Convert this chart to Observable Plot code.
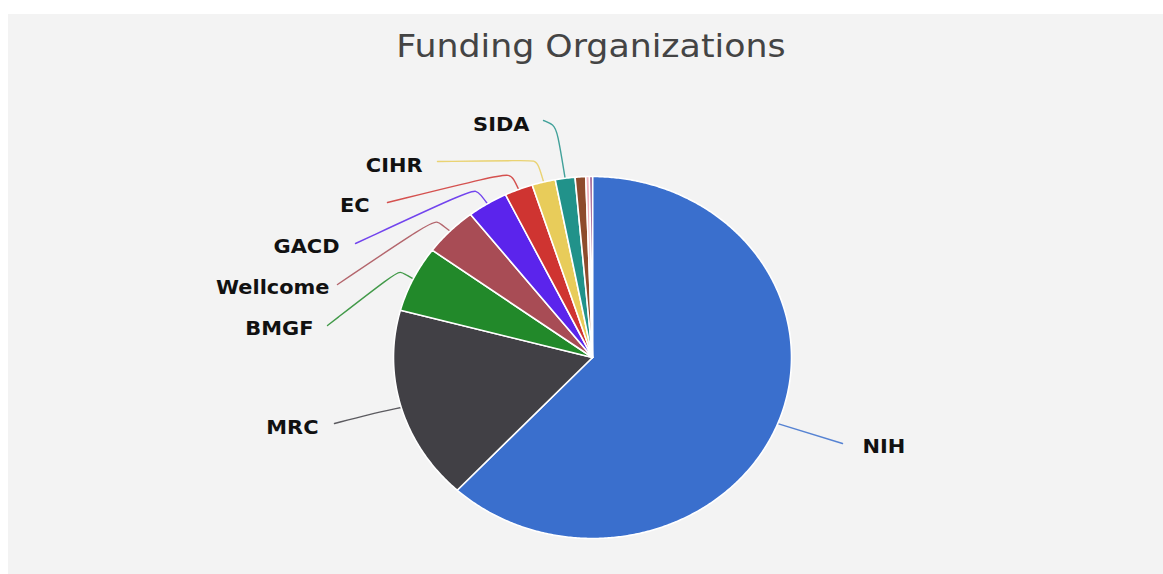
<!DOCTYPE html>
<html>
<head>
<meta charset="utf-8">
<script src="https://cdn.jsdelivr.net/npm/d3@7"></script>
<script src="https://cdn.jsdelivr.net/npm/@observablehq/plot@0.6"></script>
<style>
  html, body { margin: 0; padding: 0; background: #ffffff; }
  #panel { position: absolute; left: 8px; top: 14px; width: 1155px; height: 560px; background: #f3f3f3; overflow: hidden; }
  #title { position: absolute; left: 0; top: 14px; width: 1166px; text-align: center; font-family: "DejaVu Sans", sans-serif; font-size: 31.6px; line-height: 36.8px; color: #444444; }
  #title span { display: inline-block; transform: scaleX(1.1); transform-origin: center; }
  #chart { position: absolute; left: 0; top: 66px; }
</style>
</head>
<body>
<div id="panel">
  <div id="title"><span>Funding Organizations</span></div>
  <div id="chart"></div>
</div>
<script>
// ---- data ----
const names  = ["NIH", "MRC", "BMGF", "Wellcome", "GACD", "EC", "CIHR", "SIDA", "Other A", "Other B", "Other C"];
const shares = [61.9, 17.3, 5.9, 4.4, 3.3, 2.3, 1.9, 1.6, 0.86, 0.3, 0.24];
const colors = ["#3a6fcd", "#414045", "#22892a", "#a84c55", "#5b24ec", "#cf3431", "#e8cc5a", "#21928a", "#8e4b2c", "#f0b3c0", "#8a3a78"];
const labelled = ["NIH", "MRC", "BMGF", "Wellcome", "GACD", "EC", "CIHR", "SIDA"];

// ---- layout (page pixels) ----
const OX = 8, OY = 80, W = 1155, H = 494;
const CX = 592, CY = 357, RX = 199, RY = 181;
const layout = {
  NIH:      {via: [[842, 443]],                                     text: [862, 446], anchor: "start"},
  MRC:      {via: [[368, 414], [334, 423]],                         text: [318, 427], anchor: "end"},
  BMGF:     {via: [[405, 274], [400, 271], [394, 273], [327, 325]], text: [313, 328], anchor: "end"},
  Wellcome: {via: [[441, 224], [437, 221], [429, 222], [337, 284]], text: [329, 287], anchor: "end"},
  GACD:     {via: [[480, 194], [476, 190], [467, 191], [355, 243]], text: [339, 246], anchor: "end"},
  EC:       {via: [[513, 178], [509, 174], [496, 175], [387, 202]], text: [369, 205.5], anchor: "end"},
  CIHR:     {via: [[538, 164], [534, 160], [525, 160], [437, 161]], text: [422, 165.5], anchor: "end"},
  SIDA:     {via: [[557, 131], [553, 124], [543, 120]],             text: [529, 124], anchor: "end"}
};
const toX = px => (px - CX) / RX;
const toY = py => (CY - py) / RY;

// ---- geometry from values ----
const rows = names.map((name, i) => ({name, value: shares[i]}));
const arcs = d3.pie().sort(null).value(d => d.value).startAngle(0).endAngle(2 * Math.PI)(rows);

const slicePts = [];
arcs.forEach(a => {
  const name = a.data.name;
  slicePts.push({name, x: 0, y: 0});
  const n = Math.max(2, Math.ceil((a.endAngle - a.startAngle) / (Math.PI / 360)));
  for (let k = 0; k <= n; k++) {
    const t = a.startAngle + (a.endAngle - a.startAngle) * k / n;
    slicePts.push({name, x: Math.sin(t), y: Math.cos(t)});
  }
  slicePts.push({name, x: 0, y: 0});
});

const leaderPts = [];
const labelRows = [];
arcs.forEach(a => {
  const name = a.data.name;
  if (!labelled.includes(name)) return;
  const mid = (a.startAngle + a.endAngle) / 2;
  const L = layout[name];
  leaderPts.push({name, x: Math.sin(mid), y: Math.cos(mid)});
  L.via.forEach(([px, py]) => leaderPts.push({name, x: toX(px), y: toY(py)}));
  labelRows.push({name, x: toX(L.text[0]), y: toY(L.text[1]), anchor: L.anchor});
});

const textStyle = {fontFamily: "DejaVu Sans, sans-serif", fontSize: 19, fontWeight: "bold", fill: "#111111", lineAnchor: "middle"};

const svg = Plot.plot({
  width: W,
  height: H,
  margin: 0,
  style: {background: "transparent", overflow: "visible"},
  x: {domain: [-1, 1], range: [CX - RX - OX, CX + RX - OX], axis: null},
  y: {domain: [-1, 1], range: [CY + RY - OY, CY - RY - OY], axis: null},
  color: {domain: names, range: colors},
  marks: [
    Plot.line(leaderPts, {x: "x", y: "y", z: "name", stroke: "name", strokeWidth: 1.4, strokeOpacity: 0.85, curve: "basis"}),
    Plot.line(slicePts, {x: "x", y: "y", z: "name", fill: "name", stroke: "#ffffff", strokeWidth: 1.6, strokeLinejoin: "round", curve: "linear"}),
    Plot.text(labelRows.filter(d => d.anchor === "end"), {x: "x", y: "y", text: "name", textAnchor: "end", ...textStyle}),
    Plot.text(labelRows.filter(d => d.anchor === "start"), {x: "x", y: "y", text: "name", textAnchor: "start", ...textStyle})
  ]
});
document.getElementById("chart").appendChild(svg);

// the reference is stretched horizontally by ~1.1: widen the label glyphs to match
svg.querySelectorAll("text").forEach(t => {
  const w = t.getComputedTextLength();
  if (w > 0) {
    t.setAttribute("textLength", (w * 1.1).toFixed(1));
    t.setAttribute("lengthAdjust", "spacingAndGlyphs");
  }
});
</script>
</body>
</html>
